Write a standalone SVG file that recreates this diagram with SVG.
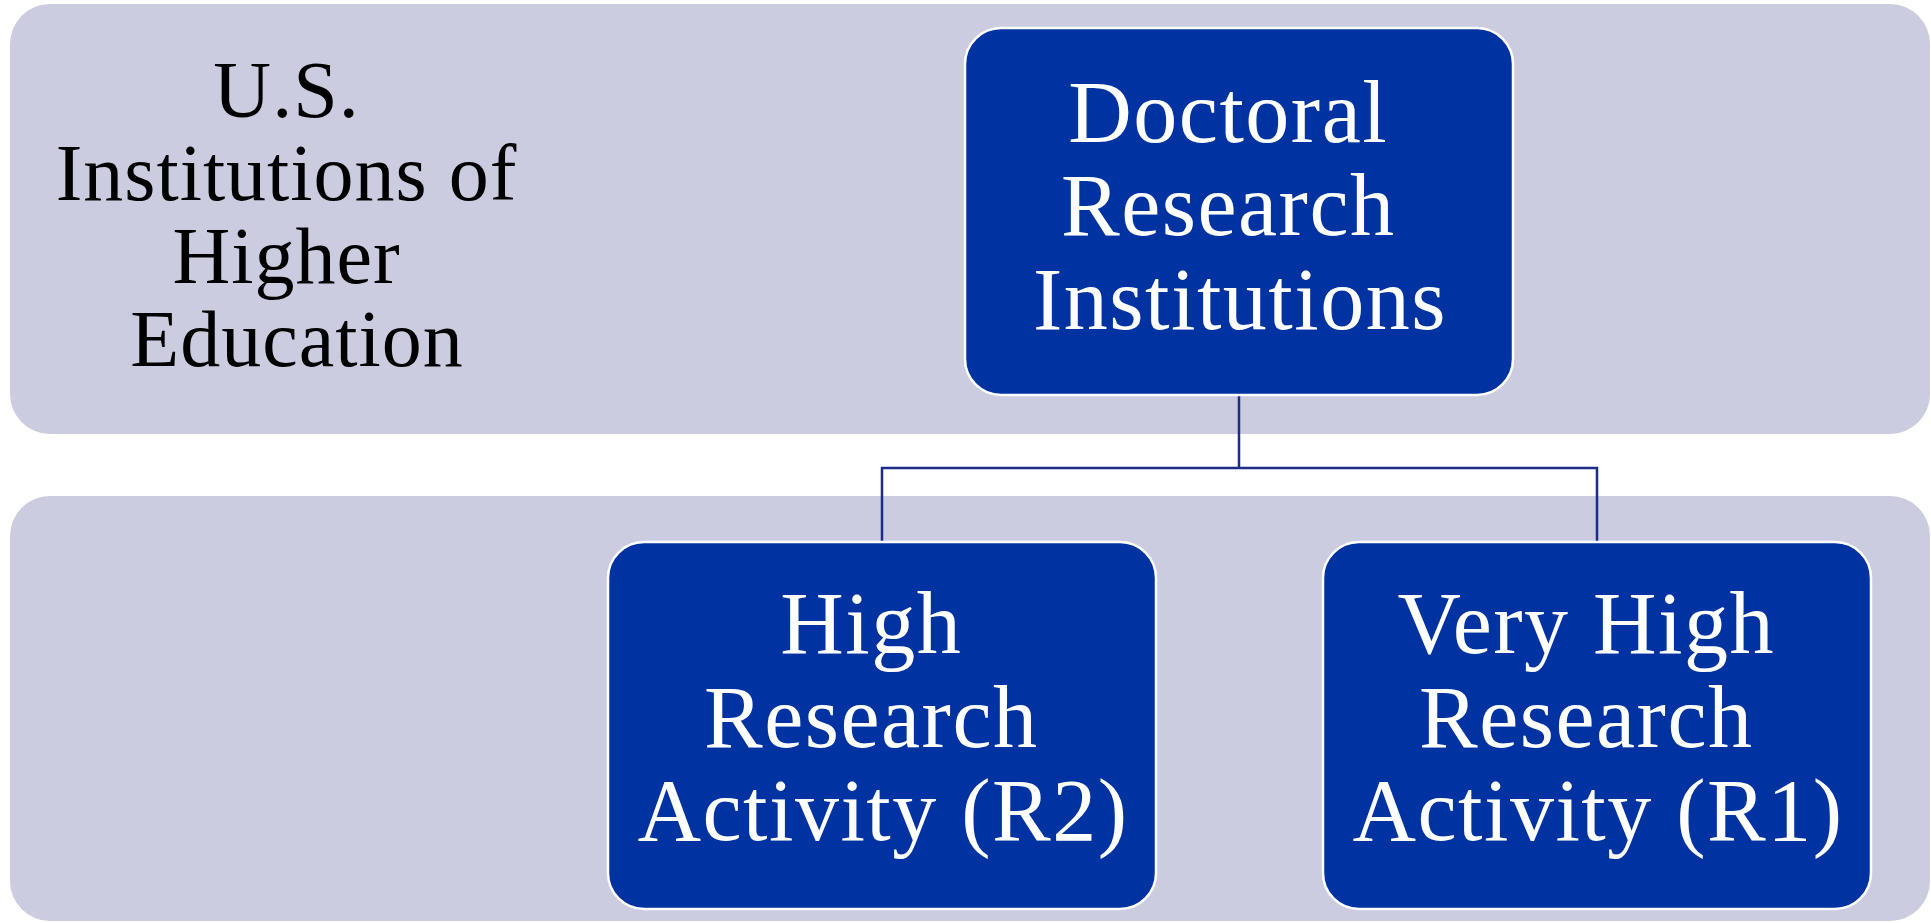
<svg xmlns="http://www.w3.org/2000/svg" width="1931" height="923" viewBox="0 0 1931 923">
  <style>
    .band { fill: #cbcce0; }
    .node rect { fill: #0033a1; stroke: #ffffff; stroke-width: 2.5; }
    .node text { fill: #ffffff; font-family: "Liberation Serif", "Times New Roman", serif; font-size: 88px; letter-spacing: 1.5px; text-anchor: middle; }
    .title { fill: #000000; font-family: "Liberation Serif", "Times New Roman", serif; font-size: 80px; letter-spacing: 1px; text-anchor: middle; }
    .link { fill: none; stroke: #1b2d86; stroke-width: 2.5; }
  </style>

  <rect width="1931" height="923" fill="#ffffff"/>

  <!-- level bands -->
  <g id="band-top">
    <rect class="band" x="10" y="4" width="1920" height="430" rx="40" ry="40"/>
    <text class="title">
      <tspan x="297" y="117">U.S.</tspan>
      <tspan x="297" y="200">Institutions of</tspan>
      <tspan x="297" y="283">Higher</tspan>
      <tspan x="297" y="366">Education</tspan>
    </text>
  </g>
  <g id="band-bottom">
    <rect class="band" x="10" y="496" width="1920" height="425" rx="40" ry="40"/>
  </g>

  <!-- connectors -->
  <g id="connectors">
    <path class="link" d="M1239 395 V468 M882 542 V468 H1597 V542"/>
  </g>

  <!-- nodes -->
  <g id="node-doctoral" class="node">
    <rect x="965" y="28" width="548" height="367" rx="36" ry="36"/>
    <text>
      <tspan x="1240" y="142">Doctoral</tspan>
      <tspan x="1240" y="235">Research</tspan>
      <tspan x="1240" y="329">Institutions</tspan>
    </text>
  </g>
  <g id="node-r2" class="node">
    <rect x="608" y="542" width="548" height="367" rx="36" ry="36"/>
    <text>
      <tspan x="883" y="653">High</tspan>
      <tspan x="883" y="747">Research</tspan>
      <tspan x="883" y="840">Activity (R2)</tspan>
    </text>
  </g>
  <g id="node-r1" class="node">
    <rect x="1323" y="542" width="548" height="367" rx="36" ry="36"/>
    <text>
      <tspan x="1598" y="653">Very High</tspan>
      <tspan x="1598" y="747">Research</tspan>
      <tspan x="1598" y="840">Activity (R1)</tspan>
    </text>
  </g>
</svg>
